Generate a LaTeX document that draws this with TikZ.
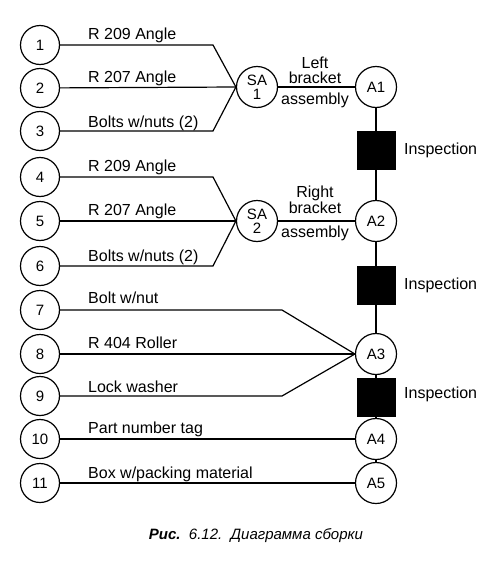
\documentclass[tikz,border=0pt]{standalone}
\usepackage{fontspec}
\setmainfont{Liberation Sans}
\begin{document}
\begin{tikzpicture}[x=1pt,y=-1pt,
  part/.style={circle,draw,line width=1.2pt,minimum size=39pt,inner sep=0pt,font=\fontsize{15}{15}\selectfont},
  asm/.style={circle,draw,line width=1.2pt,minimum size=41pt,inner sep=0pt,font=\fontsize{15}{14}\selectfont,align=center},
  insp/.style={draw,fill=black,minimum width=38pt,minimum height=38pt,inner sep=0pt},
  lbl/.style={anchor=base west,inner sep=0pt,font=\fontsize{16}{16}\selectfont},
  mid/.style={inner sep=0pt,font=\fontsize{16}{16}\selectfont},
  wire/.style={line width=1.2pt}]
\useasboundingbox (0,0) rectangle (496,562);
% part circles
\foreach \n/\y in {1/45,2/88,3/131,4/177,5/221,6/266,7/310,8/354,9/396,10/439,11/483}
  \node[part] (p\n) at (40,\y) {\n};
% assembly circles
\node[asm] (sa1) at (257,87) {SA\\1};
\node[asm] (sa2) at (257,221) {SA\\2};
\node[asm] (a1) at (376,87) {A1};
\node[asm] (a2) at (376,221) {A2};
\node[asm] (a3) at (376,354) {A3};
\node[asm] (a4) at (376,439) {A4};
\node[asm] (a5) at (376,483) {A5};
% inspection boxes
\node[insp] (i1) at (376,150) {};
\node[insp] (i2) at (376,285) {};
\node[insp] (i3) at (376,397) {};
\node[mid,anchor=west] (t1) at (404,150) {Inspection};
\node[mid,anchor=west] (t2) at (404,285) {Inspection};
\node[mid,anchor=west] (t3) at (404,394) {Inspection};
% part labels
\node[lbl] (l1) at (88,39) {R 209 Angle};
\node[lbl] (l2) at (88,82) {R 207 Angle};
\node[lbl] (l3) at (88,127) {Bolts w/nuts (2)};
\node[lbl] (l4) at (88,171) {R 209 Angle};
\node[lbl] (l5) at (88,215) {R 207 Angle};
\node[lbl] (l6) at (88,261) {Bolts w/nuts (2)};
\node[lbl] (l7) at (88,303) {Bolt w/nut};
\node[lbl] (l8) at (88,348) {R 404 Roller};
\node[lbl] (l9) at (88,392) {Lock washer};
\node[lbl] (l10) at (88,433) {Part number tag};
\node[lbl] (l11) at (88,478) {Box w/packing material};
% subassembly labels
\node[mid] (left) at (315,63) {Left};
\node[mid] (lb) at (315,78) {bracket};
\node[mid] (la) at (315,100) {assembly};
\node[mid] (right) at (315,193) {Right};
\node[mid] (rb) at (315,208) {bracket};
\node[mid] (ra) at (315,233) {assembly};
% bend points
\coordinate (b1) at (213,45);
\coordinate (b3) at (213,131);
\coordinate (b4) at (213,177);
\coordinate (b6) at (213,266);
\coordinate (b7) at (282,310);
\coordinate (b9) at (282,396);
% wires
\draw[wire] (p1) -- (b1) -- (sa1.west);
\draw[wire] (p2) -- (sa1.west);
\draw[wire] (p3) -- (b3) -- (sa1.west);
\draw[wire] (p4) -- (b4) -- (sa2.west);
\draw[wire] (p5) -- (sa2.west);
\draw[wire] (p6) -- (b6) -- (sa2.west);
\draw[wire] (p7) -- (b7) -- (a3.west);
\draw[wire] (p8) -- (a3);
\draw[wire] (p9) -- (b9) -- (a3.west);
\draw[wire] (p10) -- (a4);
\draw[wire] (p11) -- (a5);
\draw[wire] (sa1) -- (a1);
\draw[wire] (sa2) -- (a2);
\draw[wire] (a1) -- (i1) -- (a2) -- (i2) -- (a3) -- (i3) -- (a4) -- (a5);
% caption
\node[inner sep=0pt,font=\fontsize{15}{15}\selectfont\itshape] (cap) at (256,536) {\textbf{Рис.}\ \ 6.12.\ \ Диаграмма сборки};
\end{tikzpicture}
\end{document}
